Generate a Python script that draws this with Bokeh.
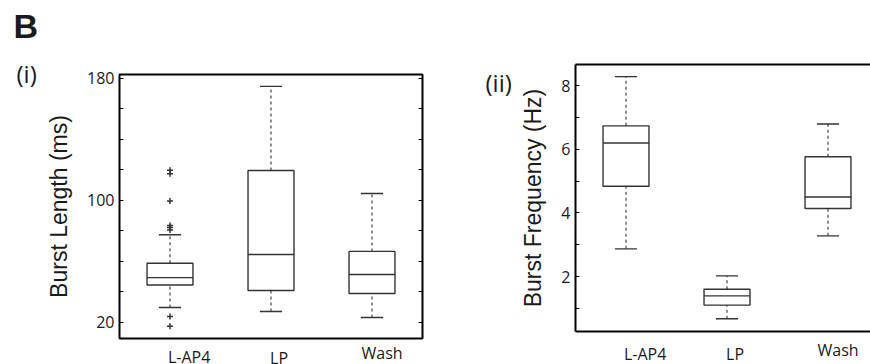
from bokeh.plotting import figure
from bokeh.layouts import row, column
from bokeh.models import Label, LinearAxis, FixedTicker, Range1d
from bokeh.embed import file_html
from bokeh.resources import INLINE

categories = ["L-AP4", "LP", "Wash"]

# Panel (i): Burst Length (ms)
len_lower = [29.8, 27.2, 23.3]
len_q1 = [44.6, 41.0, 39.0]
len_median = [49.4, 64.6, 51.5]
len_q3 = [58.8, 119.7, 66.6]
len_upper = [77.5, 174.8, 104.6]
len_outlier_group = ["L-AP4"] * 8
len_outliers = [119.8, 117.6, 99.7, 83.6, 82.3, 80.6, 23.9, 17.6]
len_ticks = [20, 100, 180]
len_minor_ticks = [40, 60, 80, 120, 140, 160]

# Panel (ii): Burst Frequency (Hz)
freq_lower = [2.87, 0.67, 3.28]
freq_q1 = [4.84, 1.10, 4.14]
freq_median = [6.20, 1.39, 4.50]
freq_q3 = [6.74, 1.60, 5.77]
freq_upper = [8.29, 2.02, 6.80]
freq_ticks = [2, 4, 6, 8]
freq_minor_ticks = [1, 3, 5, 7]

H = 364
BOX_W = 0.455
CAP_W = 0.22
LINE = "#333333"
TXT = "#1a1a1a"
TICK_FONT = "Open Sans"
TITLE_FONT = "Liberation Sans"
LABEL_DX = [0.19, 0.08, 0.10]   # category label centre offsets from box centre (styling)


def blank(width, height, xr, yr, bl=0, br=0, bt=0, bb=0):
    p = figure(width=width, height=height, x_range=xr, y_range=yr,
               x_axis_location=None, y_axis_location=None, output_backend="svg",
               toolbar_location=None, min_border_left=bl, min_border_right=br,
               min_border_top=bt, min_border_bottom=bb, outline_line_color=None,
               background_fill_color="white", border_fill_color="white")
    p.grid.grid_line_color = None
    return p


def add_label(p, x, y, text, font, size, style="normal", align="left", baseline="middle"):
    p.add_layout(Label(x=x, y=y, text=text, text_font=font, text_font_size=size,
                       text_font_style=style, text_align=align, text_baseline=baseline,
                       text_color=TXT))


def style_yaxis(ax, ticks, minor, label, label_standoff):
    ax.ticker = FixedTicker(ticks=ticks, minor_ticks=minor)
    ax.axis_label = label
    ax.axis_label_text_font = TITLE_FONT
    ax.axis_label_text_font_size = "23px"
    ax.axis_label_text_font_style = "normal"
    ax.axis_label_text_color = TXT
    ax.axis_label_standoff = label_standoff
    ax.major_label_text_font = TICK_FONT
    ax.major_label_text_font_size = "16px"
    ax.major_label_text_color = TXT
    ax.major_label_standoff = 5
    ax.major_tick_in = 4
    ax.major_tick_out = 0
    ax.minor_tick_in = 4
    ax.minor_tick_out = 0
    ax.major_tick_line_color = "black"
    ax.minor_tick_line_color = "black"


def plain_axis():
    return LinearAxis(ticker=FixedTicker(ticks=[]), axis_line_color="black", axis_line_width=2,
                      major_tick_line_color=None, minor_tick_line_color=None,
                      major_tick_in=0, major_tick_out=0, minor_tick_in=0, minor_tick_out=0,
                      major_label_standoff=0)


def draw_boxes(p, lower, q1, med, q3, upper):
    xs = [i + 1 for i in range(len(categories))]
    p.segment(x0=xs, y0=q3, x1=xs, y1=upper, line_color=LINE, line_width=1.1, line_dash="3 3")
    p.segment(x0=xs, y0=lower, x1=xs, y1=q1, line_color=LINE, line_width=1.1, line_dash="3 3")
    p.segment(x0=[x - CAP_W / 2 for x in xs], y0=upper, x1=[x + CAP_W / 2 for x in xs], y1=upper,
              line_color=LINE, line_width=1.4)
    p.segment(x0=[x - CAP_W / 2 for x in xs], y0=lower, x1=[x + CAP_W / 2 for x in xs], y1=lower,
              line_color=LINE, line_width=1.4)
    p.vbar(x=xs, width=BOX_W, bottom=q1, top=q3, fill_color="white", line_color=LINE, line_width=1.4)
    p.segment(x0=[x - BOX_W / 2 for x in xs], y0=med, x1=[x + BOX_W / 2 for x in xs], y1=med,
              line_color=LINE, line_width=1.4)
    return xs


def category_strip(p, xs, width, height, bl, br, centres):
    """Strip under a panel sharing its x scale; y in pixels from the strip top."""
    s = blank(width, height, p.x_range, Range1d(height, 0), bl=bl, br=br)
    for x, d, c, m in zip(xs, LABEL_DX, categories, centres):
        add_label(s, x + d, m, c, TICK_FONT, "16px", align="center", baseline="middle")
    return s


# ---------------- left strip: "B" and "(i)" ----------------
STRIP_A = 40
strip_a = blank(STRIP_A, H, Range1d(0, STRIP_A), Range1d(H, 0))
add_label(strip_a, 13, 25.5, "B", TITLE_FONT, "34px", style="bold")
add_label(strip_a, 16, 72.5, "(i)", TICK_FONT, "24px")

# ---------------- Panel (i) ----------------
L_X0, L_W, L_Y0, L_BOT = 119, 303, 74, 338
P1_W = 435 - STRIP_A
P1_BL = L_X0 - STRIP_A
P1_BR = P1_W - P1_BL - L_W
P1_H = L_BOT + 2
p1 = figure(width=P1_W, height=P1_H, x_range=Range1d(0.5, 3.5), y_range=Range1d(9.5, 182.6),
            x_axis_location=None, output_backend="svg", toolbar_location=None,
            min_border_left=P1_BL, min_border_right=P1_BR, min_border_top=L_Y0,
            min_border_bottom=2, background_fill_color="white", border_fill_color="white")
p1.grid.grid_line_color = None
p1.outline_line_color = "black"
p1.outline_line_width = 2
style_yaxis(p1.yaxis[0], len_ticks, len_minor_ticks, "Burst Length (ms)", 12)
p1.yaxis[0].axis_line_color = None
rax = LinearAxis(ticker=FixedTicker(ticks=len_ticks, minor_ticks=len_minor_ticks),
                 major_label_text_color=None, axis_line_color=None,
                 major_tick_in=4, major_tick_out=0, minor_tick_in=4, minor_tick_out=0,
                 major_tick_line_color="black", minor_tick_line_color="black")
p1.add_layout(rax, "right")
xs1 = draw_boxes(p1, len_lower, len_q1, len_median, len_q3, len_upper)
out_x = [categories.index(g) + 1 for g in len_outlier_group]
p1.scatter(x=out_x, y=len_outliers, marker="cross", size=6, line_color=LINE, line_width=1.5)
strip_l = category_strip(p1, xs1, P1_W, H - P1_H, P1_BL, P1_BR,
                         [356.6 - P1_H, 357.0 - P1_H, 352.8 - P1_H])

# ---------------- middle strip: "(ii)" ----------------
STRIP_B = 80
strip_b = blank(STRIP_B, H, Range1d(0, STRIP_B), Range1d(H, 0))
add_label(strip_b, 485 - 435, 82, "(ii)", TICK_FONT, "24px")

# ---------------- Panel (ii) ----------------
R_X0, R_W, R_Y0, R_BOT = 575, 295, 64, 331
P2_W = 870 - 435 - STRIP_B
P2_BL = R_X0 - 435 - STRIP_B
P2_H = R_BOT + 4
p2 = figure(width=P2_W, height=P2_H, x_range=Range1d(0.5, 0.5 + R_W / 101),
            y_range=Range1d(0.27, 8.67), x_axis_location=None, output_backend="svg",
            toolbar_location=None, min_border_left=P2_BL, min_border_right=0,
            min_border_top=R_Y0, min_border_bottom=P2_H - R_BOT,
            background_fill_color="white", border_fill_color="white")
p2.grid.grid_line_color = None
p2.outline_line_color = None
style_yaxis(p2.yaxis[0], freq_ticks, freq_minor_ticks, "Burst Frequency (Hz)", 12)
p2.yaxis[0].axis_line_color = "black"
p2.yaxis[0].axis_line_width = 2
p2.add_layout(plain_axis(), "above")
p2.add_layout(plain_axis(), "below")
xs2 = draw_boxes(p2, freq_lower, freq_q1, freq_median, freq_q3, freq_upper)
strip_r = category_strip(p2, xs2, P2_W, H - P2_H, P2_BL, 0,
                         [353.5 - P2_H, 353.7 - P2_H, 349.2 - P2_H])

# each child wrapped on its own so the row does not align the plot frames
layout = row(column(strip_a), column(p1, strip_l, spacing=0), column(strip_b),
             column(p2, strip_r, spacing=0), spacing=0)
open("out.html", "w").write(file_html(layout, INLINE))
